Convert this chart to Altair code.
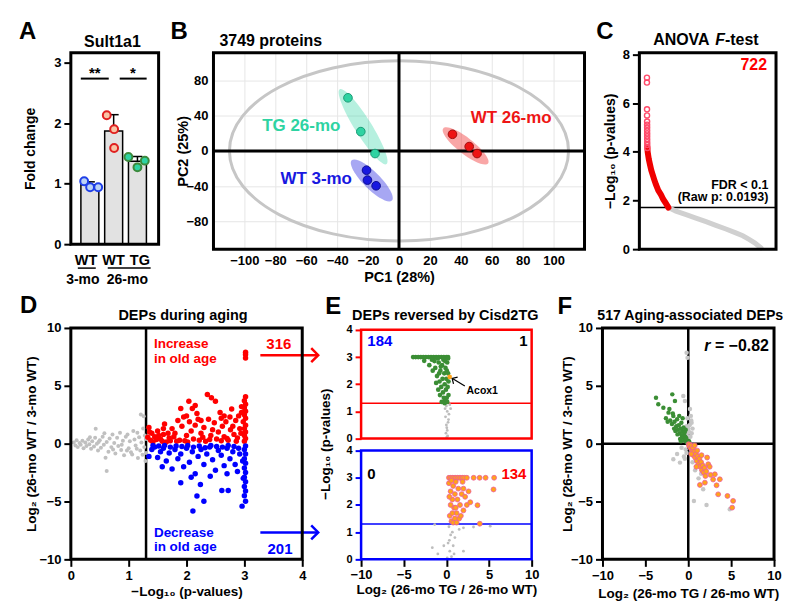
import altair as alt
import pandas as pd

FONT = "Liberation Sans"

# ================= DATA =================
# ---- Panel A : Sult1a1 fold change ----
a_genotype = ["WT", "WT", "TG"]
a_age = ["3-mo", "26-mo", "26-mo"]
a_mean = [0.98, 1.87, 1.37]
a_sd = [0.05, 0.27, 0.08]
a_point_bar = [0, 0, 0, 1, 1, 1, 2, 2, 2]
a_point_jitter = [-0.24, 0.01, 0.35, -0.29, 0.02, 0.02, -0.38, 0.31, 0.0]
a_point_value = [1.04, 0.94, 0.94, 2.13, 1.90, 1.59, 1.44, 1.38, 1.27]

# ---- Panel B : PCA ----
b_group = ["TG 26-mo"] * 3 + ["WT 3-mo"] * 3 + ["WT 26-mo"] * 3
b_pc1 = [-33.0, -24.7, -15.5, -21.0, -20.4, -14.8, 34.6, 45.4, 50.5]
b_pc2 = [60.0, 21.8, -3.0, -21.8, -33.0, -39.4, 18.8, 4.9, -3.0]
b_groups = ["TG 26-mo", "WT 3-mo", "WT 26-mo"]
b_center_pc1 = [-23.2, -17.6, 43.1]
b_center_pc2 = [27.4, -33.4, 5.6]

# ---- Panel C : ANOVA ranked -log10 p ----
c_threshold = [1.714]
c_open = [(20, 7.05), (20, 6.85), (22, 5.75), (22, 5.5), (25, 5.25), (25, 5.12), (26, 5.0),
          (26, 4.88), (27, 4.76), (27, 4.64), (28, 4.52), (29, 4.4), (30, 4.28), (32, 4.16)]
c_red = [(32, 4.2), (43, 4.0), (80, 3.7), (120, 3.47), (160, 3.25), (206, 3.06), (260, 2.85),
         (315, 2.65), (390, 2.42), (478, 2.24), (550, 2.05), (620, 1.92), (722, 1.71)]
c_gray = [(722, 1.71), (967, 1.56), (1300, 1.42), (1619, 1.28), (1950, 1.13), (2271, 0.98),
          (2600, 0.83), (2923, 0.67), (3150, 0.55), (3357, 0.40), (3550, 0.25), (3749, 0.05)]

# ---- Panel D : x = -log10 p, y = log2 FC ----
d_threshold = [1.3]
d_gray = [(0.05, 0.10), (0.08, -0.15), (0.10, 0.30), (0.12, -0.30), (0.15, 0.05), (0.17, -0.10),
          (0.20, 0.25), (0.22, -0.40), (0.25, 0.10), (0.27, -0.20), (0.30, 0.35), (0.32, -0.05),
          (0.35, -0.45), (0.37, 0.20), (0.40, -0.25), (0.42, 0.50), (0.43, 1.28), (0.45, 0.00),
          (0.47, -0.60), (0.50, 0.30), (0.52, -0.35), (0.55, 0.60), (0.57, -0.10), (0.60, -1.22),
          (0.62, -2.37), (0.62, 0.15), (0.65, -0.70), (0.67, 0.45), (0.70, -0.30), (0.72, 0.80),
          (0.75, 0.05), (0.77, -0.85), (0.80, 0.50), (0.82, -0.20), (0.85, 0.95), (0.87, -0.55),
          (0.90, 0.25), (0.92, -1.00), (0.95, 0.60), (0.98, 0.79), (1.00, -0.40), (1.02, 0.20),
          (1.04, -0.75), (1.06, -0.94), (1.08, 1.10), (1.10, 0.35), (1.12, -0.15), (1.15, 0.94),
          (1.16, -1.25), (1.18, 0.55), (1.20, -0.60), (1.21, 2.52), (1.22, 0.10), (1.24, -0.95),
          (1.25, 1.30), (1.26, 2.37), (1.27, -0.30), (1.28, 0.70), (1.29, -1.50), (1.30, 0.40),
          (1.30, -0.80), (0.33, 0.55), (0.58, 0.90), (0.88, -0.10), (1.14, -0.45), (0.97, -0.60),
          (0.73, -0.50), (0.48, 0.15)]
d_up = [(3.02, 7.9), (3.02, 7.7), (3.02, 7.4), (3.02, 4.05), (3.0, 3.7), (3.02, 3.4), (3.0, 3.1),
        (3.02, 2.8), (3.0, 2.5), (3.02, 2.2), (2.98, 1.9), (3.02, 1.6), (3.0, 1.3), (3.02, 1.0),
        (3.0, 0.7), (3.02, 0.45), (3.0, 0.2), (2.95, 3.2), (2.9, 2.4), (2.36, 4.25), (2.43, 3.96),
        (2.5, 3.67), (2.04, 3.67), (1.9, 3.04), (2.1, 3.04), (2.2, 2.1), (1.95, 2.3), (2.6, 2.2),
        (2.75, 2.3), (2.8, 1.5), (2.45, 1.2), (1.35, 1.4), (1.4, 0.9), (1.45, 0.6), (1.38, 0.3),
        (1.5, 1.1), (1.55, 0.4), (1.6, 0.8), (1.62, 1.7), (1.7, 0.5), (1.75, 1.3), (1.8, 0.9),
        (1.85, 2.0), (1.88, 0.3), (1.92, 1.5), (2.0, 0.7), (2.05, 1.9), (2.08, 1.1), (2.12, 0.4),
        (2.15, 1.6), (2.18, 2.6), (2.25, 0.9), (2.3, 1.4), (2.33, 0.2), (2.38, 2.1), (2.42, 0.7),
        (2.48, 1.8), (2.52, 0.4), (2.55, 1.0), (2.58, 2.7), (2.62, 1.5), (2.65, 0.6), (2.68, 1.9),
        (2.72, 0.3), (2.76, 1.2), (2.78, 3.0), (2.82, 0.8), (2.85, 2.0), (2.88, 0.5), (2.92, 1.3),
        (2.94, 0.9), (1.42, 0.15), (1.48, 0.35), (1.58, 0.2), (1.65, 0.15), (1.72, 0.25),
        (1.78, 0.6), (1.83, 0.2), (1.97, 0.25), (2.02, 0.15), (2.22, 0.3), (2.28, 0.55),
        (2.4, 0.35), (2.6, 0.25), (2.7, 0.45), (2.86, 0.2), (2.0, 2.4), (2.25, 2.0), (1.6, 1.3),
        (2.15, 3.3), (2.95, 2.7), (2.65, 2.4), (1.33, 0.55), (1.36, 1.0), (1.52, 0.7), (1.68, 0.9)]
d_down = [(3.02, -0.2), (3.0, -0.5), (3.02, -0.9), (3.0, -1.3), (3.02, -1.7), (3.0, -2.1),
          (3.02, -2.5), (3.0, -2.9), (3.02, -3.3), (3.0, -3.7), (3.02, -4.1), (3.0, -4.5),
          (3.02, -4.97), (2.96, -5.4), (2.98, -3.0), (2.97, -1.5), (2.11, -5.83), (2.18, -4.53),
          (2.30, -4.97), (2.24, -3.53), (1.90, -3.38), (2.41, -2.81), (2.61, -4.05), (2.72, -4.05),
          (2.84, -1.8), (1.35, -1.1), (1.4, -0.5), (1.45, -0.3), (1.5, -1.2), (1.55, -0.7),
          (1.6, -0.4), (1.65, -1.5), (1.7, -0.8), (1.75, -2.2), (1.8, -0.5), (1.85, -1.3),
          (1.9, -0.9), (1.95, -2.0), (2.0, -0.4), (2.05, -1.6), (2.1, -0.7), (2.15, -2.6),
          (2.2, -1.1), (2.25, -0.5), (2.3, -1.8), (2.35, -0.9), (2.4, -0.3), (2.45, -1.4),
          (2.5, -2.3), (2.55, -0.6), (2.6, -1.0), (2.65, -1.9), (2.7, -0.4), (2.75, -1.3),
          (2.8, -0.7), (2.88, -2.4), (2.92, -0.9), (1.42, -0.15), (1.52, -0.2), (1.62, -0.15),
          (1.72, -0.3), (1.82, -0.2), (1.92, -0.25), (2.02, -0.15), (2.12, -0.3), (2.22, -0.2),
          (2.32, -0.35), (2.42, -0.15), (2.52, -0.25), (2.62, -0.3), (2.72, -0.15), (2.82, -0.25),
          (2.9, -0.4), (1.58, -2.0), (2.08, -2.9), (2.7, -2.6)]

# ---- Panel E : x = log2(TG/WT 26-mo), y = -log10 p ----
e_threshold = [1.3]
e_top_green = [(-3.9, 3.0), (-3.6, 3.0), (-3.3, 3.0), (-3.0, 3.0), (-2.7, 3.0), (-2.4, 3.0),
               (-2.1, 3.0), (-1.8, 3.0), (-1.5, 3.0), (-1.2, 3.0), (-0.9, 3.0), (-0.6, 3.0),
               (-0.3, 3.0), (0.0, 3.0), (0.2, 3.0), (-2.6, 2.86), (-2.0, 2.7), (-1.6, 2.5),
               (-1.3, 2.6), (-1.1, 2.3), (-0.9, 2.8), (-0.8, 2.1), (-0.7, 2.5), (-0.6, 1.9),
               (-0.5, 2.7), (-0.45, 2.2), (-0.4, 1.7), (-0.35, 2.9), (-0.3, 1.5), (-0.25, 2.4),
               (-0.2, 2.0), (-0.15, 1.4), (-0.1, 2.6), (-0.05, 1.8), (0.0, 2.2), (0.05, 1.5),
               (0.1, 2.8), (0.15, 1.9), (0.2, 2.4), (0.25, 1.6), (-1.4, 2.85), (-1.0, 2.95),
               (-0.75, 1.6), (-0.55, 1.35), (-0.2, 1.3), (0.1, 1.35), (0.2, 2.95), (-1.7, 2.9),
               (-0.95, 1.8), (-0.65, 2.65), (-0.15, 2.85), (0.05, 2.5), (0.25, 2.1), (-1.2, 2.05),
               (-0.85, 2.4)]
e_top_gray = [(0.0, 1.2), (0.1, 1.0), (-0.1, 0.8), (0.2, 0.6), (0.05, 0.4), (-0.05, 0.2),
              (0.15, 0.1), (0.3, 0.9), (0.0, 0.5), (0.1, 0.3), (-0.15, 1.1), (0.4, 1.25),
              (0.25, 0.7), (0.05, 0.05), (0.5, 1.1)]
e_top_orange = [(0.39, 2.27)]
e_bot_orange = [(0.3, 3.0), (0.5, 3.0), (0.7, 3.0), (0.9, 3.0), (1.1, 3.0), (1.3, 3.0), (1.5, 3.0),
                (1.7, 3.0), (1.9, 3.0), (2.1, 3.0), (2.4, 3.0), (3.2, 3.0), (3.9, 3.0), (4.6, 3.0),
                (5.6, 3.0), (0.3, 2.8), (0.5, 2.5), (0.6, 2.9), (0.7, 2.2), (0.8, 2.7), (0.9, 1.9),
                (1.0, 2.4), (1.1, 2.85), (1.2, 1.7), (1.3, 2.2), (1.4, 2.6), (1.5, 1.5), (1.6, 2.0),
                (1.8, 2.4), (2.0, 1.8), (2.2, 2.3), (0.4, 1.6), (0.6, 1.4), (0.8, 1.35), (1.0, 1.5),
                (0.5, 2.0), (0.7, 1.7), (1.2, 1.35), (1.7, 1.6), (2.4, 2.0), (2.0, 2.6), (5.53, 2.57),
                (3.65, 1.99), (3.92, 1.31), (2.8, 2.1), (0.35, 2.3), (1.9, 2.85), (1.1, 1.9), (2.6, 2.5)]
e_bot_gray = [(0.3, 1.2), (0.5, 0.9), (0.2, 0.6), (0.7, 1.0), (0.4, 0.3), (0.6, 0.1), (0.1, 0.05),
              (0.8, 0.5), (1.0, 0.8), (-1.65, 0.43), (-1.0, 0.2), (-1.37, 1.28), (3.18, 1.19),
              (5.14, 1.22), (2.0, 1.16), (1.5, 1.1), (0.9, 0.2), (0.35, 0.7), (-0.3, 0.5), (2.0, 0.3)]

# ---- Panel F : x = log2(TG/WT 26-mo), y = log2(WT 26-mo / WT 3-mo) ----
f_gray = [(-0.19, 7.86), (-0.08, 7.43), (-0.58, 4.12), (-0.39, 3.68), (0.39, 1.81), (-1.74, -1.35),
          (-0.97, -1.64), (0.66, -4.95), (2.13, -5.3), (4.84, -5.67), (1.74, -3.94), (-0.78, -0.35),
          (0.3, 2.4), (0.2, 3.0), (0.5, 1.3), (0.1, 1.0), (0.25, 0.6), (-0.1, 2.2), (0.15, 1.6),
          (0.4, 0.9), (-0.2, -0.8), (-0.5, -1.1), (-0.3, -0.5), (0.8, -2.3), (1.2, -3.0),
          (0.5, -1.6), (-0.4, -1.3), (1.5, -2.6), (0.6, -0.2), (-0.2, 1.5), (-1.3, -0.9),
          (0.05, 0.6), (-0.6, 0.4), (0.35, 2.0), (0.0, 1.3), (-0.15, 0.9), (1.3, -1.4), (0.9, -0.9)]
f_green = [(-3.76, 3.97), (-1.86, 4.26), (-3.49, 3.4), (-2.9, 3.1), (-2.3, 2.68), (-1.55, 3.68),
           (-1.74, 2.39), (-2.6, 2.2), (-2.1, 2.0), (-1.9, 1.7), (-1.6, 1.9), (-1.4, 1.5), (-1.3, 2.1),
           (-1.2, 1.2), (-1.1, 1.6), (-1.0, 0.9), (-0.9, 1.3), (-0.8, 1.8), (-0.75, 0.7), (-0.7, 1.1),
           (-0.6, 0.5), (-0.55, 1.4), (-0.5, 0.8), (-0.45, 0.3), (-0.4, 1.0), (-0.35, 0.6),
           (-0.3, 0.2), (-0.25, 0.5), (-0.2, 0.35), (-0.15, 0.15), (-0.1, 0.1), (-0.05, 0.05),
           (-1.5, 1.1), (-1.8, 2.6), (-2.4, 1.9), (-0.95, 0.4), (-1.25, 0.8), (-0.65, 2.2),
           (-2.2, 3.0), (-1.05, 2.4), (-0.85, 0.2), (-0.3, 1.2), (0.1, 0.2), (-1.65, 1.3)]
f_orange = [(0.05, -0.05), (0.1, -0.2), (0.2, -0.1), (0.3, -0.4), (0.4, -0.2), (0.5, -0.6),
            (0.58, -0.35), (0.6, -1.0), (0.7, -0.7), (0.8, -1.2), (0.9, -0.9), (1.0, -1.5),
            (1.1, -1.1), (1.2, -1.8), (1.3, -1.3), (1.4, -2.0), (1.5, -1.6), (1.6, -2.3),
            (1.7, -1.9), (1.8, -2.5), (1.9, -2.1), (2.0, -2.8), (2.1, -2.4), (2.33, -1.78),
            (3.1, -2.65), (3.68, -3.08), (3.49, -4.38), (4.57, -4.52), (5.23, -4.95), (5.12, -5.53),
            (1.36, -3.57), (1.94, -3.37), (2.6, -2.7), (2.9, -3.1), (0.75, -0.15), (1.05, -0.6),
            (0.35, -0.9), (2.2, -1.2), (1.55, -1.0), (0.95, -2.0), (3.3, -3.6), (2.5, -2.0)]

# ================= STYLE =================
A_FILL = ["#bcd3f5", "#f9c4a6", "#2fd3a3"]
A_EDGE = ["#1f3fe8", "#e02020", "#3c8a3c"]
A_LABEL_PX = [15.3, 42.8, 69.2]          # pixel centres of genotype labels
A_AGE_PX = {"3-mo": 12.0, "26-mo": 56.7}  # pixel centres of age labels
B_FILL = {"TG 26-mo": "#2ed3a2", "WT 3-mo": "#1818e0", "WT 26-mo": "#ee1515"}
B_EDGE = {"TG 26-mo": "#1a9a74", "WT 3-mo": "#0c0c90", "WT 26-mo": "#a00e0e"}
B_ELL = {"TG 26-mo": (7850, 0.19, 58, 0.35), "WT 3-mo": (3250, 0.30, 45, 0.38),
         "WT 26-mo": (3250, 0.28, 38, 0.38)}
RED = "#ff0000"
BLUE = "#0000ff"
GREEN = "#3b8e35"
ORANGE = "#ffa31a"
PINK = "#ee5c9a"

one = pd.DataFrame({"k": [0]})


def pts(pairs):
    return pd.DataFrame({"x": [p[0] for p in pairs], "y": [p[1] for p in pairs]})


def txt(s, x, y, size=13.0, color="black", align="left", baseline="alphabetic",
        weight="bold", style="normal"):
    return alt.Chart(one).mark_text(text=s, align=align, baseline=baseline, fontSize=size,
                                    fontWeight=weight, fontStyle=style, color=color,
                                    font=FONT).encode(x=alt.value(x), y=alt.value(y))


def seg(x1, y1, x2, y2, color="black", width=2.0):
    return alt.Chart(one).mark_rule(color=color, strokeWidth=width).encode(
        x=alt.value(x1), y=alt.value(y1), x2=alt.value(x2), y2=alt.value(y2))


def frame(w, h, color="black", width=3.0):
    return alt.Chart(one).mark_rect(fillOpacity=0, stroke=color, strokeWidth=width).encode(
        x=alt.value(0), x2=alt.value(w), y=alt.value(0), y2=alt.value(h))


def chevron(x, y, color, angle=0, size=196, width=2.5):
    return alt.Chart(one).mark_point(shape="M-1,-1L0,0L-1,1", size=size, angle=angle,
                                     filled=False, stroke=color, strokeWidth=width,
                                     opacity=1).encode(x=alt.value(x), y=alt.value(y))


def ellipse_path(r):
    return f"M-1,0A1,{r} 0 1,1 1,0A1,{r} 0 1,1 -1,0Z"


# ================= PANEL A =================
AW, AH = 88, 192
sxA = alt.Scale(domain=[0.2, 3.89], nice=False, zero=False, padding=0)
syA = alt.Scale(domain=[0, 3.165], nice=False, zero=False, padding=0)
XA = alt.X("x:Q", scale=sxA, axis=None)
YA = alt.Y("y:Q", scale=syA,
           axis=alt.Axis(values=[0, 1, 2, 3], format="d", title="Fold change", titleX=-40,
                         titleY=AH / 2, titleBaseline="middle", titleFontSize=14))
a_bar = pd.DataFrame({"x": [i + 1 for i in range(3)], "y": a_mean,
                      "y2": [m + s for m, s in zip(a_mean, a_sd)]})
a_cap = pd.DataFrame({"x": [i + 1 for i in range(3)],
                      "y": [m + s for m, s in zip(a_mean, a_sd)]})
a_pt = pd.DataFrame({"x": [b + 1 + j for b, j in zip(a_point_bar, a_point_jitter)],
                     "y": a_point_value,
                     "fill": [A_FILL[b] for b in a_point_bar],
                     "edge": [A_EDGE[b] for b in a_point_bar]})

a_layers = [
    alt.Chart(a_bar).mark_bar(size=18, fill="#e2e2e2", stroke="black", strokeWidth=1.5).encode(x=XA, y=YA),
    alt.Chart(a_bar).mark_rule(strokeWidth=1.5, color="black").encode(x=XA, y=YA, y2="y2:Q"),
    alt.Chart(a_cap).mark_tick(orient="horizontal", size=10, thickness=1.5, color="black",
                               opacity=1).encode(x=XA, y=YA),
    alt.Chart(a_pt).mark_point(filled=True, size=62, strokeWidth=2, opacity=1).encode(
        x=XA, y=YA, fill=alt.Fill("fill:N", scale=None), stroke=alt.Stroke("edge:N", scale=None)),
]
for g, px in zip(a_genotype, A_LABEL_PX):
    a_layers.append(txt(g, px, 212.5, size=14.5, align="center"))
for age in dict.fromkeys(a_age):
    a_layers.append(txt(age, A_AGE_PX[age], 232, size=14, align="center"))
a_layers += [
    seg(7, 216, 25, 216, width=1.5), seg(37, 216, 80, 216, width=1.5),
    seg(10, 26, 38, 26, width=2), seg(49, 26, 76, 26, width=2),
    txt("**", 24, 25, size=15, align="center"), txt("*", 62.3, 25, size=15, align="center"),
    frame(AW, AH),
    txt("Sult1a1", 41.7, -6, size=16, align="center"),
    txt("A", -52, -14, size=24),
]
A = alt.layer(*a_layers).properties(width=AW, height=AH)

# ================= PANEL B =================
BW, BH = 372, 197
sxB = alt.Scale(domain=[-120, 120], nice=False, zero=False)
syB = alt.Scale(domain=[-111, 111], nice=False, zero=False)
XB = alt.X("x:Q", scale=sxB, axis=alt.Axis(values=list(range(-100, 101, 20)), grid=True,
                                              gridColor="#e6e6e6", gridWidth=1, ticks=False,
                                              tickSize=0, labelPadding=5, title="PC1 (28%)",
                                              titleX=BW / 2, titleY=28, titleBaseline="middle",
                                              titleFontSize=14.5))
YB = alt.Y("y:Q", scale=syB, axis=alt.Axis(values=[-80, -40, 0, 40, 80], grid=True,
                                              gridColor="#e6e6e6", gridWidth=1, ticks=False,
                                              tickSize=0, labelPadding=5.5, title="PC2 (25%)",
                                              titleX=-30.5, titleY=BH / 2, titleBaseline="middle",
                                              titleFontSize=14.5))
b_origin = pd.DataFrame({"x": [0.0], "y": [0.0]})
b_df = pd.DataFrame({"x": b_pc1, "y": b_pc2, "group": b_group})
b_df["fill"] = b_df["group"].map(B_FILL)
b_df["edge"] = b_df["group"].map(B_EDGE)

b_layers = [
    alt.Chart(b_origin).mark_point(shape=ellipse_path(0.531), size=115600, filled=False,
                                   stroke="#c6c6c6", strokeWidth=3, opacity=1).encode(x=XB, y=YB)
]
for g, cx, cy in zip(b_groups, b_center_pc1, b_center_pc2):
    size, ratio, ang, op = B_ELL[g]
    b_layers.append(
        alt.Chart(pd.DataFrame({"x": [cx], "y": [cy]})).mark_point(
            shape=ellipse_path(ratio), size=size, angle=ang, filled=True, fill=B_FILL[g],
            fillOpacity=op, strokeOpacity=0, opacity=1).encode(x=XB, y=YB))
b_layers += [
    alt.Chart(b_origin).mark_rule(strokeWidth=3, color="black").encode(x=XB),
    alt.Chart(b_origin).mark_rule(strokeWidth=3, color="black").encode(y=YB),
    alt.Chart(b_df).mark_point(filled=True, size=75, strokeWidth=1, opacity=1).encode(
        x=XB, y=YB, fill=alt.Fill("fill:N", scale=None), stroke=alt.Stroke("edge:N", scale=None)),
    txt("TG 26-mo", 88, 74, size=17, color=B_FILL["TG 26-mo"], align="center", baseline="middle"),
    txt("WT 3-mo", 103, 127, size=17, color=B_FILL["WT 3-mo"], align="center", baseline="middle"),
    txt("WT 26-mo", 298.5, 66, size=17, color=B_FILL["WT 26-mo"], align="center", baseline="middle"),
    frame(BW, BH),
    txt("3749 proteins", 6, -7, size=16),
    txt("B", -43, -14, size=24),
]
B = alt.layer(*b_layers).properties(width=BW, height=BH)

# ================= PANEL C =================
CW, CH = 137, 197
sxC = alt.Scale(domain=[-228, 4237], nice=False, zero=False)
syC = alt.Scale(domain=[0, 8.08], nice=False, zero=False)
XC = alt.X("x:Q", scale=sxC, axis=None)
YC = alt.Y("y:Q", scale=syC, axis=alt.Axis(values=[0, 2, 4, 6, 8], format="d",
                                              title="−Log₁₀ (p-values)",
                                              titleX=-28.5, titleY=CH / 2, titleBaseline="middle",
                                              titleFontSize=14))
C = alt.layer(
    alt.Chart(pd.DataFrame({"y": c_threshold})).mark_rule(strokeWidth=1.5, color="black").encode(y=YC),
    alt.Chart(pts(c_gray)).mark_line(color="#d0d0d0", strokeWidth=5, strokeCap="round").encode(x=XC, y=YC),
    alt.Chart(pts(c_red)).mark_line(color="#f00000", strokeWidth=6, strokeCap="round").encode(x=XC, y=YC),
    alt.Chart(pts(c_open)).mark_point(filled=False, size=26, strokeWidth=1.4, color="#ff4a6a",
                                      opacity=1).encode(x=XC, y=YC),
    txt("722", 128, 17.3, size=16, color=RED, align="right"),
    txt("FDR < 0.1", 129.3, 136.3, size=12.5, align="right"),
    txt("(Raw p: 0.0193)", 129.3, 149, size=12.5, align="right"),
    frame(CW, CH),
    txt("ANOVA", 13.8, -8, size=16),
    txt("F", 76, -8, size=16, style="italic"),
    txt("-test", 85.8, -8, size=16),
    txt("C", -43.3, -14, size=24),
).properties(width=CW, height=CH)

# ================= PANEL D =================
DW, DH, DPLOT = 236, 232, 232
XD = alt.X("x:Q", scale=alt.Scale(domain=[0, 4], range=[0, DPLOT], nice=False, zero=False),
           axis=alt.Axis(values=[0, 1, 2, 3, 4], format="d", title="−Log₁₀ (p-values)",
                         titleX=DPLOT / 2, titleY=32.7, titleBaseline="middle", titleFontSize=13.5))
YD = alt.Y("y:Q", scale=alt.Scale(domain=[-10, 10], nice=False, zero=False),
           axis=alt.Axis(values=[-10, -5, 0, 5, 10], format="d", title="Log₂ (26-mo WT / 3-mo WT)",
                         titleX=-39, titleY=DH / 2, titleBaseline="middle", titleFontSize=13.5))
D = alt.layer(
    alt.Chart(pd.DataFrame({"x": d_threshold})).mark_rule(strokeWidth=2.5, color="black").encode(x=XD),
    alt.Chart(pts(d_gray)).mark_circle(size=16, color="#c0c0c0", opacity=1).encode(x=XD, y=YD),
    alt.Chart(pts(d_up)).mark_circle(size=30, color=RED, opacity=1).encode(x=XD, y=YD),
    alt.Chart(pts(d_down)).mark_circle(size=30, color=BLUE, opacity=1).encode(x=XD, y=YD),
    txt("Increase", 83.3, 20, size=13.5, color=RED),
    txt("in old age", 83.3, 35, size=13.5, color=RED),
    txt("Decrease", 83.3, 209.3, size=13.5, color=BLUE),
    txt("in old age", 83.3, 224, size=13.5, color=BLUE),
    txt("316", 208.5, 21.5, size=15, color=RED, align="center"),
    txt("201", 209.7, 226.5, size=15, color=BLUE, align="center"),
    seg(190, 27.3, 247, 27.3, color=RED, width=2.5),
    chevron(248, 27.3, RED),
    seg(190, 205, 247, 205, color=BLUE, width=2.5),
    chevron(248, 205, BLUE),
    frame(DPLOT, DH),
    txt("DEPs during aging", 112.5, -7.7, size=14.5, align="center"),
    txt("D", -51, -14.7, size=24),
).properties(width=DW, height=DH)

# ================= PANEL E =================
EW, EH, EPLOT = 187, 232, 171
E_OFF = 4.44
e_ticks = [0, 1, 2, 3, 4] + [E_OFF + k for k in range(5)]
XE = alt.X("x:Q", scale=alt.Scale(domain=[-10, 10], range=[0, EPLOT], nice=False, zero=False),
           axis=alt.Axis(values=[-10, -5, 0, 5, 10], format="d", labelPadding=2,
                         title="Log₂ (26-mo TG / 26-mo WT)", titleX=EPLOT / 2, titleY=30.5,
                         titleBaseline="middle", titleFontSize=13.5))
YE = alt.Y("y:Q", scale=alt.Scale(domain=[0, 8.51], nice=False, zero=False),
           axis=alt.Axis(values=e_ticks, labelOverlap=False, labelFontSize=11, tickSize=6,
                         tickColor={"condition": {"test": "datum.value > 4.2", "value": RED},
                                    "value": BLUE},
                         labelExpr=f"datum.value > 4.2 ? format(datum.value - {E_OFF}, '.0f') : format(datum.value, '.0f')",
                         title="−Log₁₀ (p-values)", titleX=-36, titleY=EH / 2,
                         titleBaseline="middle", titleFontSize=13.5))


def e_df(pairs, top):
    df = pts(pairs)
    if top:
        df["y"] = df["y"] + E_OFF
    return df


e_frames_top = pd.DataFrame({"x": [-10], "x2": [10], "y": [E_OFF], "y2": [E_OFF + 4]})
e_frames_bot = pd.DataFrame({"x": [-10], "x2": [10], "y": [0], "y2": [4]})
e_thr_top = pd.DataFrame({"x": [-10], "x2": [10], "y": [e_threshold[0] + E_OFF]})
e_thr_bot = pd.DataFrame({"x": [-10], "x2": [10], "y": [e_threshold[0]]})

E = alt.layer(
    alt.Chart(e_thr_top).mark_rule(strokeWidth=1.5, color=RED).encode(x=XE, x2="x2:Q", y=YE),
    alt.Chart(e_thr_bot).mark_rule(strokeWidth=1.5, color=BLUE).encode(x=XE, x2="x2:Q", y=YE),
    alt.Chart(e_df(e_top_gray, True)).mark_circle(size=8, color="#bdbdbd", opacity=1).encode(x=XE, y=YE),
    alt.Chart(e_df(e_bot_gray, False)).mark_circle(size=8, color="#bdbdbd", opacity=1).encode(x=XE, y=YE),
    alt.Chart(e_df(e_top_green, True)).mark_circle(size=22, color=GREEN, opacity=1).encode(x=XE, y=YE),
    alt.Chart(e_df(e_top_orange, True)).mark_circle(size=22, color=ORANGE, opacity=1).encode(x=XE, y=YE),
    alt.Chart(e_df(e_bot_orange, False)).mark_circle(size=24, color=ORANGE, stroke=PINK,
                                                      strokeWidth=0.8, opacity=1).encode(x=XE, y=YE),
    alt.Chart(e_frames_top).mark_rect(fillOpacity=0, stroke=RED, strokeWidth=2.5).encode(
        x=XE, x2="x2:Q", y=YE, y2="y2:Q"),
    alt.Chart(e_frames_bot).mark_rect(fillOpacity=0, stroke=BLUE, strokeWidth=2.5).encode(
        x=XE, x2="x2:Q", y=YE, y2="y2:Q"),
    txt("184", 6.3, 18.3, size=15, color=BLUE),
    txt("1", 167, 18.3, size=15, align="right"),
    txt("0", 6.3, 151.6, size=15),
    txt("134", 165.7, 151.6, size=15, color=RED, align="right"),
    txt("Acox1", 105.7, 66.6, size=10.5),
    seg(104, 58.3, 92, 51, width=1.2),
    chevron(91.3, 50.6, "black", angle=211, size=64, width=1.2),
    txt("DEPs reversed by Cisd2TG", -9, -8.4, size=14.5),
    txt("E", -36, -14, size=24),
).properties(width=EW, height=EH)

# ================= PANEL F =================
FW, FH = 172, 232
XF = alt.X("x:Q", scale=alt.Scale(domain=[-10, 10], nice=False, zero=False),
           axis=alt.Axis(values=[-10, -5, 0, 5, 10], format="d", title="Log₂ (26-mo TG / 26-mo WT)",
                         titleX=FW / 2, titleY=34.7, titleBaseline="middle", titleFontSize=13.5))
YF = alt.Y("y:Q", scale=alt.Scale(domain=[-10, 10], nice=False, zero=False),
           axis=alt.Axis(values=[-10, -5, 0, 5, 10], format="d", title="Log₂ (26-mo WT / 3-mo WT)",
                         titleX=-35.5, titleY=FH / 2, titleBaseline="middle", titleFontSize=13.5))
f_origin = pd.DataFrame({"x": [0.0], "y": [0.0]})
F = alt.layer(
    alt.Chart(f_origin).mark_rule(strokeWidth=2.5, color="black").encode(x=XF),
    alt.Chart(f_origin).mark_rule(strokeWidth=2.5, color="black").encode(y=YF),
    alt.Chart(pts(f_gray)).mark_circle(size=20, color="#c6c6c6", opacity=1).encode(x=XF, y=YF),
    alt.Chart(pts(f_green)).mark_circle(size=20, color=GREEN, opacity=1).encode(x=XF, y=YF),
    alt.Chart(pts(f_orange)).mark_circle(size=24, color=ORANGE, stroke=PINK, strokeWidth=0.8,
                                         opacity=1).encode(x=XF, y=YF),
    txt("r", 102, 23.3, size=16, style="italic"),
    txt("= −0.82", 112.7, 23.3, size=16),
    frame(FW, FH),
    txt("517 Aging-associated DEPs", 88, -8.4, size=14.2, align="center"),
    txt("F", -45, -14, size=24),
).properties(width=FW, height=FH)

row1 = alt.hconcat(A, B, C, spacing=55, bounds="flush")
row2 = alt.hconcat(D, E, F, spacing=55, bounds="flush")

chart = alt.vconcat(row1, row2, spacing=276, bounds="flush").properties(
    padding={"left": 10, "top": 10, "right": 0, "bottom": 5}
).configure(font=FONT).configure_view(stroke="transparent").configure_axis(
    domain=False, grid=False, ticks=True, tickColor="black", tickWidth=2, tickSize=7,
    labelFont=FONT, labelFontSize=13, labelFontWeight="bold", labelColor="black",
    labelPadding=3, labelFlush=False, titleFont=FONT, titleFontSize=14,
    titleFontWeight="bold", titleColor="black")

chart.save("out.html", embed_options={"renderer": "svg", "actions": False})
